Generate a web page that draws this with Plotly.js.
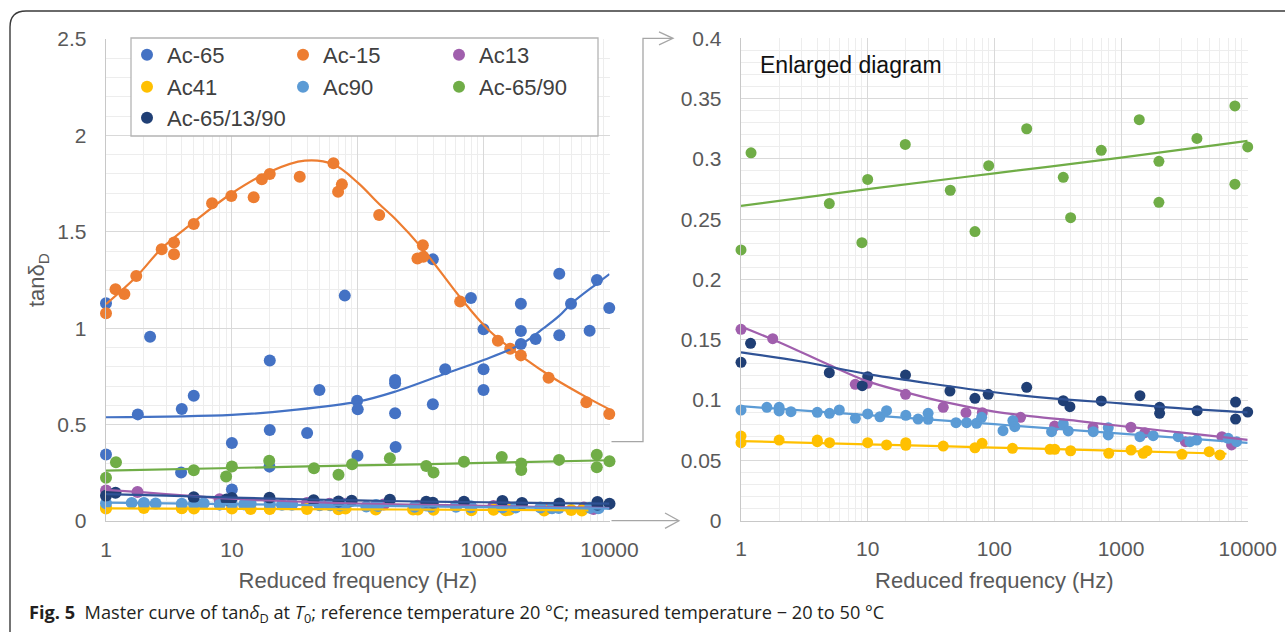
<!DOCTYPE html>
<html>
<head>
<meta charset="utf-8">
<script src="https://cdn.plot.ly/plotly-3.0.1.min.js"></script>
<style>
  html, body { margin: 0; padding: 0; background: #fff; }
  #chart { width: 1285px; height: 632px; }
</style>
</head>
<body>
<div id="chart"></div>
<script>
// Master curves of tanδD against reduced frequency (Hz)

// ---- measured points ----
const ac65Freq = [1, 1, 1.79, 2.24, 3.95, 4.0, 4.98, 10, 10, 19.9, 20, 20, 39.6, 49.6, 78.9, 98.9, 100, 99.5, 198, 198, 198, 200, 395, 395, 495, 793, 998, 998, 998, 1977, 1977, 1977, 2587, 3990, 3990, 4946, 6950, 7950, 9960];
const ac65Tan  = [1.13, 0.345, 0.553, 0.956, 0.251, 0.581, 0.650, 0.405, 0.164, 0.282, 0.832, 0.472, 0.457, 0.680, 1.169, 0.624, 0.579, 0.339, 0.731, 0.714, 0.559, 0.384, 1.357, 0.605, 0.787, 1.157, 0.994, 0.787, 0.679, 1.127, 0.985, 0.918, 0.944, 1.283, 0.963, 1.127, 0.987, 1.250, 1.105];

const ac15Freq = [1, 1.19, 1.4, 1.74, 2.77, 3.47, 3.47, 4.98, 6.96, 9.9, 14.9, 17.3, 20, 34.6, 64.1, 69.8, 74.8, 148, 298, 329, 332, 651, 1298, 1626, 1977, 3282, 6545, 9960];
const ac15Tan  = [1.077, 1.202, 1.177, 1.271, 1.409, 1.444, 1.383, 1.540, 1.648, 1.686, 1.679, 1.772, 1.800, 1.786, 1.855, 1.708, 1.746, 1.587, 1.361, 1.430, 1.371, 1.138, 0.935, 0.894, 0.859, 0.743, 0.616, 0.555];

const ac13Freq = [1, 1.78, 7.98, 9.93, 19.9, 39.5, 59.7, 80.3, 161, 299, 601, 1197, 1542, 3222, 6258, 7460];
const ac13Tan  = [0.1587, 0.1509, 0.1131, 0.1139, 0.1048, 0.0940, 0.0896, 0.0896, 0.0857, 0.0785, 0.0773, 0.0775, 0.0730, 0.0655, 0.0697, 0.0628];

const ac41Freq = [1, 1, 2, 4, 4, 5, 10, 14.1, 20, 20, 39.5, 70.3, 80, 139, 275, 300, 400, 800, 1200, 1497, 1600, 3027, 4966, 6038];
const ac41Tan  = [0.0702, 0.0647, 0.0669, 0.0669, 0.0655, 0.0647, 0.0647, 0.0628, 0.0647, 0.0625, 0.0619, 0.0605, 0.0642, 0.0600, 0.0592, 0.0592, 0.0580, 0.0559, 0.0586, 0.0559, 0.0580, 0.0550, 0.0572, 0.0545];

const ac90Freq = [1, 1.6, 2, 2, 2.48, 4, 5, 5.97, 8, 10, 12.5, 14.1, 20, 25, 30, 30, 49.8, 60.4, 72.4, 79.4, 117, 140, 145, 283, 350, 383, 604, 793, 793, 1410, 1795, 2826, 3499, 3953, 7015, 8170];
const ac90Tan  = [0.0918, 0.0940, 0.0940, 0.0910, 0.0904, 0.0899, 0.0890, 0.0918, 0.0849, 0.0885, 0.0862, 0.0912, 0.0874, 0.0843, 0.0890, 0.0841, 0.0813, 0.0813, 0.0808, 0.0857, 0.0746, 0.0830, 0.0780, 0.0738, 0.0802, 0.0744, 0.0738, 0.0771, 0.0711, 0.0697, 0.0705, 0.0697, 0.0655, 0.0669, 0.0683, 0.0655];

const ac6590Freq = [1, 1.2, 4.98, 9.0, 10, 19.8, 44.9, 70.3, 90.2, 180, 350, 400, 698, 1393, 1991, 1991, 3973, 7925, 7925, 10000];
const ac6590Tan  = [0.2245, 0.305, 0.263, 0.2305, 0.283, 0.312, 0.274, 0.2397, 0.2944, 0.325, 0.2847, 0.2513, 0.3071, 0.3325, 0.298, 0.264, 0.317, 0.3439, 0.279, 0.3099];

const ac651390Freq = [1, 1.19, 4.98, 9.06, 10, 19.9, 44.6, 70.3, 89.5, 180, 350, 395, 698, 1410, 2017, 2017, 3992, 8020, 8020, 10000];
const ac651390Tan  = [0.1313, 0.1471, 0.1227, 0.1120, 0.1194, 0.1208, 0.1075, 0.1015, 0.1048, 0.1106, 0.0995, 0.0945, 0.0993, 0.1037, 0.0940, 0.0890, 0.0912, 0.0984, 0.0843, 0.0901];

// ---- fitted trend curves ----
const ac65TrendFreq = [1, 10, 30, 100, 200, 500, 1000, 2000, 3000, 4000, 5000, 8000, 10000];
const ac65TrendTan  = [0.538, 0.550, 0.575, 0.619, 0.672, 0.765, 0.835, 0.918, 1.0, 1.065, 1.129, 1.233, 1.281];

const ac15TrendFreq = [1, 1.74, 2.77, 5, 10, 20, 38, 64, 100, 148, 200, 329, 651, 1094, 2015, 3710, 6820, 10000];
const ac15TrendTan  = [1.125, 1.267, 1.414, 1.552, 1.700, 1.812, 1.869, 1.850, 1.755, 1.644, 1.565, 1.410, 1.160, 0.991, 0.852, 0.735, 0.636, 0.579];

const ac13TrendFreq = [1, 2, 5, 10, 20, 40, 100, 200, 500, 1000, 2000, 5000, 10000];
const ac13TrendTan  = [0.161, 0.148, 0.129, 0.1155, 0.1065, 0.0985, 0.0905, 0.0865, 0.0822, 0.0785, 0.0750, 0.0705, 0.0670];

const ac41TrendFreq = [1, 10, 100, 1000, 6800];
const ac41TrendTan  = [0.0660, 0.0633, 0.0606, 0.0579, 0.0555];

const ac90TrendFreq = [1, 10, 100, 1000, 10000];
const ac90TrendTan  = [0.0950, 0.0875, 0.0800, 0.0722, 0.0645];

const ac6590TrendFreq = [1, 10, 100, 1000, 10000];
const ac6590TrendTan  = [0.261, 0.275, 0.288, 0.301, 0.315];

const ac651390TrendFreq = [1, 3, 10, 30, 100, 300, 1000, 3000, 10000];
const ac651390TrendTan  = [0.1396, 0.132, 0.1215, 0.114, 0.1065, 0.1012, 0.0973, 0.0932, 0.0899];

// ---- axis ticks ----
const freqTicks = [1, 10, 100, 1000, 10000];
const freqTickText = ['1', '10', '100', '1000', '10000'];
const tanTicks = [0, 0.5, 1, 1.5, 2, 2.5];
const tanTickText = ['0', '0.5', '1', '1.5', '2', '2.5'];
const zoomTicks = [0, 0.05, 0.1, 0.15, 0.2, 0.25, 0.3, 0.35, 0.4];
const zoomTickText = ['0', '0.05', '0.1', '0.15', '0.2', '0.25', '0.3', '0.35', '0.4'];

// ---- page geometry helpers (pixel -> paper fraction, margins are zero) ----
const W = 1285, H = 632;
const fx = p => p / W;
const fy = p => 1 - p / H;

const FONT = 'Liberation Sans, Arial, sans-serif';
const GREY = '#595959';

const series = [
  {name: 'Ac-65',       x: ac65Freq,     y: ac65Tan,     tx: ac65TrendFreq,     ty: ac65TrendTan,     color: '#4472C4', line: '#4472C4', legend: 'legend',  inset: false},
  {name: 'Ac-15',       x: ac15Freq,     y: ac15Tan,     tx: ac15TrendFreq,     ty: ac15TrendTan,     color: '#ED7D31', line: '#ED7D31', legend: 'legend',  inset: false},
  {name: 'Ac13',        x: ac13Freq,     y: ac13Tan,     tx: ac13TrendFreq,     ty: ac13TrendTan,     color: '#A05FAD', line: '#A05FAD', legend: 'legend',  inset: true},
  {name: 'Ac41',        x: ac41Freq,     y: ac41Tan,     tx: ac41TrendFreq,     ty: ac41TrendTan,     color: '#FFC000', line: '#FFC000', legend: 'legend2', inset: true},
  {name: 'Ac90',        x: ac90Freq,     y: ac90Tan,     tx: ac90TrendFreq,     ty: ac90TrendTan,     color: '#5B9BD5', line: '#5B9BD5', legend: 'legend2', inset: true},
  {name: 'Ac-65/90',    x: ac6590Freq,   y: ac6590Tan,   tx: ac6590TrendFreq,   ty: ac6590TrendTan,   color: '#70AD47', line: '#70AD47', legend: 'legend2', inset: true},
  {name: 'Ac-65/13/90', x: ac651390Freq, y: ac651390Tan, tx: ac651390TrendFreq, ty: ac651390TrendTan, color: '#203F75', line: '#2F5295', legend: 'legend3', inset: true}
];

const traces = [];
// markers, full-range panel
series.forEach(s => traces.push({
  type: 'scatter', mode: 'markers', x: s.x, y: s.y, xaxis: 'x', yaxis: 'y',
  name: s.name, legend: s.legend, cliponaxis: false, hoverinfo: 'skip',
  marker: {color: s.color, size: 12}
}));
// markers, enlarged panel
series.filter(s => s.inset).forEach(s => traces.push({
  type: 'scatter', mode: 'markers', x: s.x, y: s.y, xaxis: 'x2', yaxis: 'y2',
  name: s.name, showlegend: false, cliponaxis: false, hoverinfo: 'skip',
  marker: {color: s.color, size: 11}
}));
// trend curves on both panels
series.forEach(s => {
  traces.push({
    type: 'scatter', mode: 'lines', x: s.tx, y: s.ty, xaxis: 'x', yaxis: 'y',
    showlegend: false, hoverinfo: 'skip',
    line: {color: s.line, width: 2.2, shape: 'spline', smoothing: 1}
  });
  if (s.inset) traces.push({
    type: 'scatter', mode: 'lines', x: s.tx, y: s.ty, xaxis: 'x2', yaxis: 'y2',
    showlegend: false, hoverinfo: 'skip',
    line: {color: s.line, width: 2.2, shape: 'spline', smoothing: 1}
  });
});

const axisBase = {
  showline: true, linecolor: '#c8c8c8', linewidth: 1.3,
  showgrid: true, gridcolor: '#d9d9d9', gridwidth: 1,
  zeroline: false, ticks: '', automargin: false, fixedrange: true,
  tickfont: {family: FONT, size: 21, color: GREY}
};
const titleFont = {family: FONT, size: 22, color: GREY};

const freqAxis = (dom, anchor) => Object.assign({}, axisBase, {
  type: 'log', range: [0, 4], domain: dom, anchor: anchor,
  tickmode: 'array', tickvals: freqTicks, ticktext: freqTickText,
  ticklabelstandoff: 9,
  minor: {showgrid: true, gridcolor: '#ededed', gridwidth: 1, dtick: 'D1'},
  title: {text: 'Reduced frequency (Hz)', font: titleFont, standoff: 13}
});

const legendBase = {
  orientation: 'h', xanchor: 'left', yanchor: 'middle',
  entrywidth: 111, entrywidthmode: 'pixels',
  bgcolor: 'rgba(0,0,0,0)', borderwidth: 0,
  font: {family: FONT, size: 22, color: '#404040'},
  itemclick: false, itemdoubleclick: false
};

const connector = {color: '#a6a6a6', width: 1.3};
const P = (pts) => 'M ' + pts.map(p => fx(p[0]) + ',' + fy(p[1])).join(' L ');

const layout = {
  width: W, height: H,
  margin: {l: 0, r: 0, t: 0, b: 0, pad: 0},
  paper_bgcolor: '#ffffff', plot_bgcolor: '#ffffff',
  showlegend: true,
  xaxis: freqAxis([fx(106), fx(609.5)], 'y'),
  yaxis: Object.assign({}, axisBase, {
    range: [0, 2.5], domain: [fy(521), fy(39)], anchor: 'x',
    tickmode: 'array', tickvals: tanTicks, ticktext: tanTickText,
    ticklabelstandoff: 14,
    minor: {showgrid: true, gridcolor: '#ededed', gridwidth: 1, dtick: 0.1},
    title: {text: 'tanδ<sub>D</sub>', font: titleFont, standoff: 6}
  }),
  xaxis2: freqAxis([fx(741), fx(1247.7)], 'y2'),
  yaxis2: Object.assign({}, axisBase, {
    range: [0, 0.4], domain: [fy(520.7), fy(38.3)], anchor: 'x2',
    tickmode: 'array', tickvals: zoomTicks, ticktext: zoomTickText,
    ticklabelstandoff: 14,
    minor: {showgrid: true, gridcolor: '#ededed', gridwidth: 1, dtick: 0.01}
  }),
  legend:  Object.assign({}, legendBase, {x: fx(127), y: fy(55)}),
  legend2: Object.assign({}, legendBase, {x: fx(127), y: fy(87)}),
  legend3: Object.assign({}, legendBase, {x: fx(127), y: fy(118), entrywidth: 200}),
  shapes: [
    // outer frame of the figure
    {type: 'path', xref: 'paper', yref: 'paper', layer: 'above',
     path: 'M ' + fx(10) + ',' + fy(660) + ' L ' + fx(10) + ',' + fy(27) +
           ' Q ' + fx(10) + ',' + fy(11) + ' ' + fx(26) + ',' + fy(11) +
           ' L ' + fx(1300) + ',' + fy(11),
     line: {color: '#3a3a3a', width: 1.4}},
    // legend box
    {type: 'rect', xref: 'paper', yref: 'paper', layer: 'above',
     x0: fx(131), x1: fx(598), y0: fy(136), y1: fy(38),
     fillcolor: '#ffffff', line: {color: '#b4b4b4', width: 1.3}},
    // connectors to the enlarged panel
    {type: 'path', xref: 'paper', yref: 'paper', layer: 'above',
     path: P([[611.5, 441.7], [643, 441.7], [643, 38.3], [672, 38.3]]), line: connector},
    {type: 'path', xref: 'paper', yref: 'paper', layer: 'above',
     path: P([[659, 31.8], [673, 38.3], [659, 44.8]]), line: connector},
    {type: 'path', xref: 'paper', yref: 'paper', layer: 'above',
     path: P([[611.5, 520.7], [679, 520.7]]), line: connector},
    {type: 'path', xref: 'paper', yref: 'paper', layer: 'above',
     path: P([[665, 513], [679, 520.7], [665, 528.4]]), line: connector}
  ],
  annotations: [
    {text: 'Enlarged diagram', xref: 'paper', yref: 'paper', x: fx(758), y: fy(65),
     xanchor: 'left', yanchor: 'middle', showarrow: false,
     font: {family: FONT, size: 23, color: '#111111'}},
    {text: '<b>Fig. 5</b>&nbsp;&nbsp;Master curve of tan<i>δ</i><sub>D</sub> at <i>T</i><sub>0</sub>; reference temperature 20 °C; measured temperature − 20 to 50 °C',
     xref: 'paper', yref: 'paper', x: fx(27), y: fy(613),
     xanchor: 'left', yanchor: 'middle', showarrow: false,
     font: {family: 'Open Sans, sans-serif', size: 18.2, color: '#231f20'}}
  ]
};

Plotly.newPlot('chart', traces, layout, {staticPlot: true, displayModeBar: false});
</script>
</body>
</html>
